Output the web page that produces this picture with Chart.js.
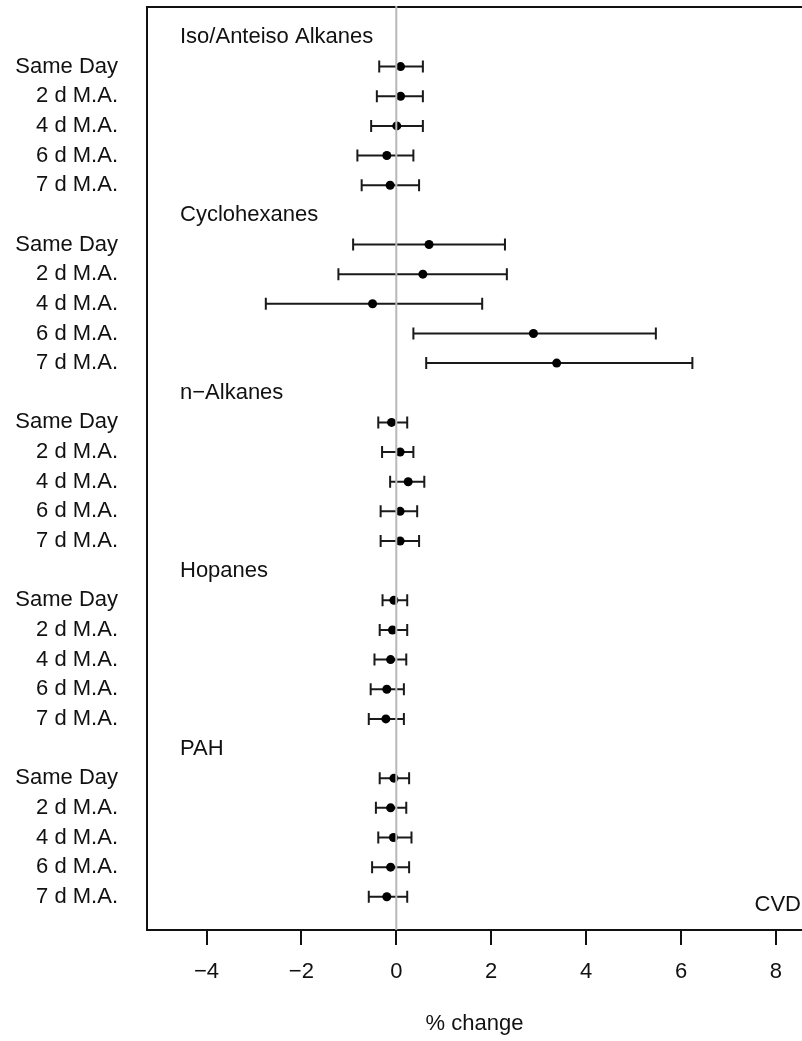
<!DOCTYPE html>
<html>
<head>
<meta charset="utf-8">
<script src="https://cdn.jsdelivr.net/npm/chart.js@4.4.1/dist/chart.umd.min.js"></script>
<style>
  html, body { margin: 0; padding: 0; background: #fff; }
</style>
</head>
<body>
<canvas id="forestPlot" width="802" height="1041"></canvas>
<script>
let groups = ["Iso/Anteiso Alkanes", "Cyclohexanes", "n\u2212Alkanes", "Hopanes", "PAH"];
let lags = ["Same Day", "2 d M.A.", "4 d M.A.", "6 d M.A.", "7 d M.A."];
let xTicks = [-4, -2, 0, 2, 4, 6, 8];

// % change estimate and 95% CI, one array per group, in lag order
let isoEst  = [0.09, 0.09, 0.01, -0.20, -0.13];
let isoLow  = [-0.36, -0.41, -0.53, -0.82, -0.73];
let isoHigh = [0.56, 0.56, 0.56, 0.36, 0.48];

let cycEst  = [0.69, 0.56, -0.50, 2.89, 3.38];
let cycLow  = [-0.91, -1.22, -2.75, 0.36, 0.63];
let cycHigh = [2.29, 2.33, 1.81, 5.47, 6.24];

let nalkEst  = [-0.10, 0.08, 0.25, 0.08, 0.08];
let nalkLow  = [-0.38, -0.30, -0.13, -0.33, -0.33];
let nalkHigh = [0.23, 0.36, 0.59, 0.44, 0.48];

let hopEst  = [-0.05, -0.08, -0.12, -0.20, -0.22];
let hopLow  = [-0.29, -0.35, -0.46, -0.54, -0.58];
let hopHigh = [0.23, 0.23, 0.21, 0.16, 0.16];

let pahEst  = [-0.05, -0.12, -0.06, -0.12, -0.20];
let pahLow  = [-0.35, -0.43, -0.38, -0.51, -0.58];
let pahHigh = [0.27, 0.21, 0.32, 0.27, 0.23];

const est  = [isoEst, cycEst, nalkEst, hopEst, pahEst];
const low  = [isoLow, cycLow, nalkLow, hopLow, pahLow];
const high = [isoHigh, cycHigh, nalkHigh, hopHigh, pahHigh];

// each group takes a header row followed by one row per lag
const rowText = {};
const headerRows = [];
const points = [];
groups.forEach((g, gi) => {
  headerRows.push({ row: gi * 6, text: g });
  lags.forEach((lag, li) => {
    const row = gi * 6 + 1 + li;
    rowText[row] = lag;
    points.push({ x: est[gi][li], y: row, lo: low[gi][li], hi: high[gi][li] });
  });
});

const FONT = "'Liberation Sans', Arial, sans-serif";
const FSIZE = 22;

const forestExtras = {
  id: 'forestExtras',
  beforeDatasetsDraw(chart) {
    const { ctx, chartArea, scales: { x, y } } = chart;
    ctx.save();
    ctx.strokeStyle = '#1a1a1a';
    ctx.lineWidth = 2;
    points.forEach(p => {
      const py = y.getPixelForValue(p.y);
      const x0 = x.getPixelForValue(p.lo);
      const x1 = x.getPixelForValue(p.hi);
      ctx.beginPath();
      ctx.moveTo(x0, py); ctx.lineTo(x1, py);
      ctx.moveTo(x0, py - 6); ctx.lineTo(x0, py + 6);
      ctx.moveTo(x1, py - 6); ctx.lineTo(x1, py + 6);
      ctx.stroke();
    });
    // group headers inside the box
    ctx.fillStyle = '#111';
    ctx.font = FSIZE + 'px ' + FONT;
    ctx.textAlign = 'left';
    ctx.textBaseline = 'middle';
    headerRows.forEach(h => {
      ctx.fillText(h.text, chartArea.left + 33, y.getPixelForValue(h.row));
    });
    ctx.textAlign = 'right';
    ctx.fillText('CVD', chartArea.right - 1, chartArea.bottom - 25);
    ctx.restore();
  },
  afterDraw(chart) {
    const { ctx, chartArea, scales: { x } } = chart;
    ctx.save();
    // top border of the box
    ctx.strokeStyle = '#111';
    ctx.lineWidth = 2;
    ctx.beginPath();
    ctx.moveTo(chartArea.left - 1, chartArea.top);
    ctx.lineTo(chartArea.right, chartArea.top);
    ctx.stroke();
    // reference line at zero
    const zx = x.getPixelForValue(0);
    ctx.strokeStyle = '#b8b8b8';
    ctx.lineWidth = 2;
    ctx.beginPath();
    ctx.moveTo(zx, chartArea.top - 1);
    ctx.lineTo(zx, chartArea.bottom);
    ctx.stroke();
    ctx.restore();
  }
};

new Chart("forestPlot", {
  type: 'scatter',
  data: {
    datasets: [{
      data: points,
      pointRadius: 4.5,
      pointHoverRadius: 4.5,
      pointBackgroundColor: '#000',
      pointBorderColor: '#000',
      pointBorderWidth: 0
    }]
  },
  options: {
    responsive: false,
    animation: false,
    layout: { autoPadding: false, padding: { top: 7, left: 0, right: 0, bottom: 0 } },
    plugins: {
      legend: { display: false },
      tooltip: { enabled: false }
    },
    scales: {
      x: {
        type: 'linear',
        min: -5.254,
        max: 8.55,
        afterBuildTicks: scale => { scale.ticks = xTicks.map(v => ({ value: v })); },
        afterFit: scale => {
          scale.height = 111;
          scale.paddingLeft = 0;
          scale.paddingRight = 0;
        },
        grid: { drawOnChartArea: false, tickLength: 15, color: '#111', lineWidth: 2 },
        border: { display: true, color: '#111', width: 2 },
        ticks: {
          color: '#111',
          font: { family: FONT, size: FSIZE },
          padding: 14,
          maxRotation: 0,
          callback: v => String(v).replace('-', '\u2212')
        },
        title: {
          display: true,
          text: '% change',
          color: '#111',
          font: { family: FONT, size: FSIZE },
          padding: { top: 0, bottom: 4 }
        }
      },
      y: {
        type: 'linear',
        reverse: true,
        min: -1.01,
        max: 30.12,
        afterBuildTicks: scale => {
          scale.ticks = Object.keys(rowText).map(r => ({ value: Number(r) }));
        },
        afterFit: scale => {
          scale.width = 147;
          scale.paddingTop = 0;
          scale.paddingBottom = 0;
        },
        grid: { display: false, drawTicks: false, tickLength: 0 },
        border: { display: true, color: '#111', width: 2 },
        ticks: {
          color: '#111',
          font: { family: FONT, size: FSIZE },
          padding: 29,
          autoSkip: false,
          callback: v => rowText[v] || ''
        }
      }
    }
  },
  plugins: [forestExtras]
});
</script>
</body>
</html>
